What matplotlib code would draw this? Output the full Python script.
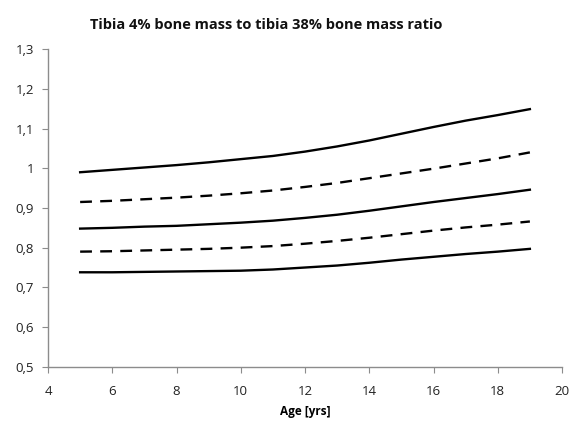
import matplotlib
matplotlib.use("Agg")
import matplotlib.pyplot as plt

age = [5, 6, 7, 8, 9, 10, 11, 12, 13, 14, 15, 16, 17, 18, 19]
upper_solid = [0.990, 0.996, 1.002, 1.008, 1.015, 1.023, 1.031, 1.042, 1.055, 1.070, 1.087, 1.104, 1.120, 1.134, 1.149]
upper_dash = [0.915, 0.918, 0.922, 0.926, 0.931, 0.937, 0.944, 0.953, 0.963, 0.975, 0.987, 0.999, 1.012, 1.025, 1.040]
median = [0.848, 0.850, 0.853, 0.855, 0.859, 0.863, 0.868, 0.875, 0.883, 0.893, 0.904, 0.915, 0.925, 0.935, 0.946]
lower_dash = [0.790, 0.791, 0.793, 0.795, 0.797, 0.800, 0.804, 0.810, 0.817, 0.825, 0.834, 0.843, 0.851, 0.858, 0.866]
lower_solid = [0.738, 0.738, 0.739, 0.740, 0.741, 0.742, 0.745, 0.750, 0.755, 0.762, 0.770, 0.777, 0.784, 0.790, 0.797]

xticks = [4, 6, 8, 10, 12, 14, 16, 18, 20]
yticks = [0.5, 0.6, 0.7, 0.8, 0.9, 1.0, 1.1, 1.2, 1.3]
ytick_labels = ["0,5", "0,6", "0,7", "0,8", "0,9", "1", "1,1", "1,2", "1,3"]

plt.rcParams['font.family'] = ['Open Sans', 'DejaVu Sans']

fig = plt.figure(figsize=(5.73, 4.24), dpi=100)
ax = fig.add_axes([0.0838, 0.135, 0.897, 0.749])

lw = 1.7
ax.plot(age, upper_solid, color='black', lw=lw)
ax.plot(age, upper_dash, color='black', lw=lw, linestyle=(0, (5, 3.5)))
ax.plot(age, median, color='black', lw=lw)
ax.plot(age, lower_dash, color='black', lw=lw, linestyle=(0, (5, 3.5)))
ax.plot(age, lower_solid, color='black', lw=lw)

ax.set_xlim(4, 20)
ax.set_ylim(0.5, 1.3)
ax.set_xticks(xticks)
ax.set_xticklabels([str(t) for t in xticks])
ax.set_yticks(yticks)
ax.set_yticklabels(ytick_labels)

for s in ['top', 'right']:
    ax.spines[s].set_visible(False)
for s in ['left', 'bottom']:
    ax.spines[s].set_color('#8c8c8c')
    ax.spines[s].set_linewidth(1.0)
ax.tick_params(axis='both', direction='out', length=4, color='#8c8c8c', labelsize=9.5, labelcolor='#222222', pad=6)
ax.tick_params(axis='x', pad=9)

fig.text(0.464, 0.941, "Tibia 4% bone mass to tibia 38% bone mass ratio", fontsize=10.5,
         fontweight='bold', ha='center', va='center', color='#111111')
ax.set_xlabel("Age [yrs]", fontsize=8.5, fontweight='bold', labelpad=5)

fig.savefig("out.png", dpi=100)
